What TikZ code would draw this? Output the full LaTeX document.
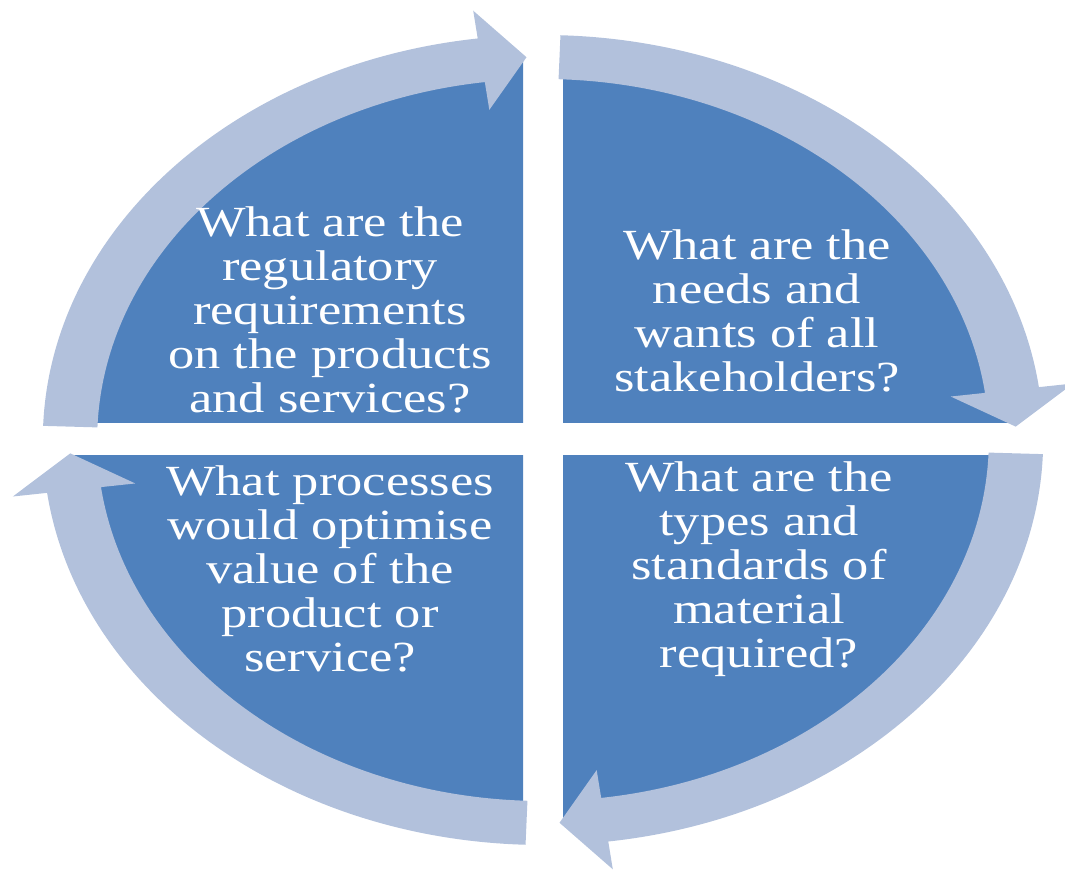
\documentclass[tikz,border=0pt]{standalone}
\usepackage{fontspec}
\setmainfont{Liberation Serif}
\definecolor{sectorblue}{RGB}{79,129,189}
\definecolor{ringblue}{RGB}{178,193,220}
\tikzset{
  sector/.style={fill=sectorblue},
  ringarrow/.style={fill=ringblue},
  qtext/.style={text=white, align=center, xscale=1.22, inner sep=0pt,
    font=\fontsize{43}{44}\selectfont}
}
\begin{document}
\begin{tikzpicture}[x=1pt,y=1pt]
\useasboundingbox (0,0) rectangle (1065,870);
% sectors
\begin{scope}
\clip (0,447) rectangle (523,870);
\fill[sector] (543,430) ellipse [x radius=469, y radius=380];
\end{scope}
\begin{scope}
\clip (563,447) rectangle (1065,870);
\fill[sector] (543,430) ellipse [x radius=469, y radius=380];
\end{scope}
\begin{scope}
\clip (0,0) rectangle (523,414);
\fill[sector] (543,430) ellipse [x radius=469, y radius=380];
\end{scope}
\begin{scope}
\clip (563,0) rectangle (1065,414);
\fill[sector] (543,430) ellipse [x radius=469, y radius=380];
\end{scope}
% ring arrows
\begin{scope}[shift={(543,430)}, xscale=1.235]
\foreach \k in {0,1,2,3}{
  \pgfmathsetmacro{\ts}{178-90*\k}
  \pgfmathsetmacro{\tt}{92-90*\k}
  \pgfmathsetmacro{\tb}{97.5-90*\k}
  \fill[ringarrow] (\ts:405) arc[start angle=\ts, end angle=\tb, radius=405]
    -- (\tb:433) -- (\tt:383) -- (\tb:333) -- (\tb:361)
    arc[start angle=\tb, end angle=\ts, radius=361] -- cycle;
}
\end{scope}
% texts
\node[qtext] (tl) at (330,560) {What are the\\regulatory\\requirements\\on the products\\and services?};
\node[qtext] (tr) at (757,559) {What are the\\needs and\\wants of all\\stakeholders?};
\node[qtext] (bl) at (330,301) {What processes\\would optimise\\value of the\\product or\\service?};
\node[qtext] (br) at (759,301) {What are the\\types and\\standards of\\material\\required?};
\end{tikzpicture}
\end{document}
